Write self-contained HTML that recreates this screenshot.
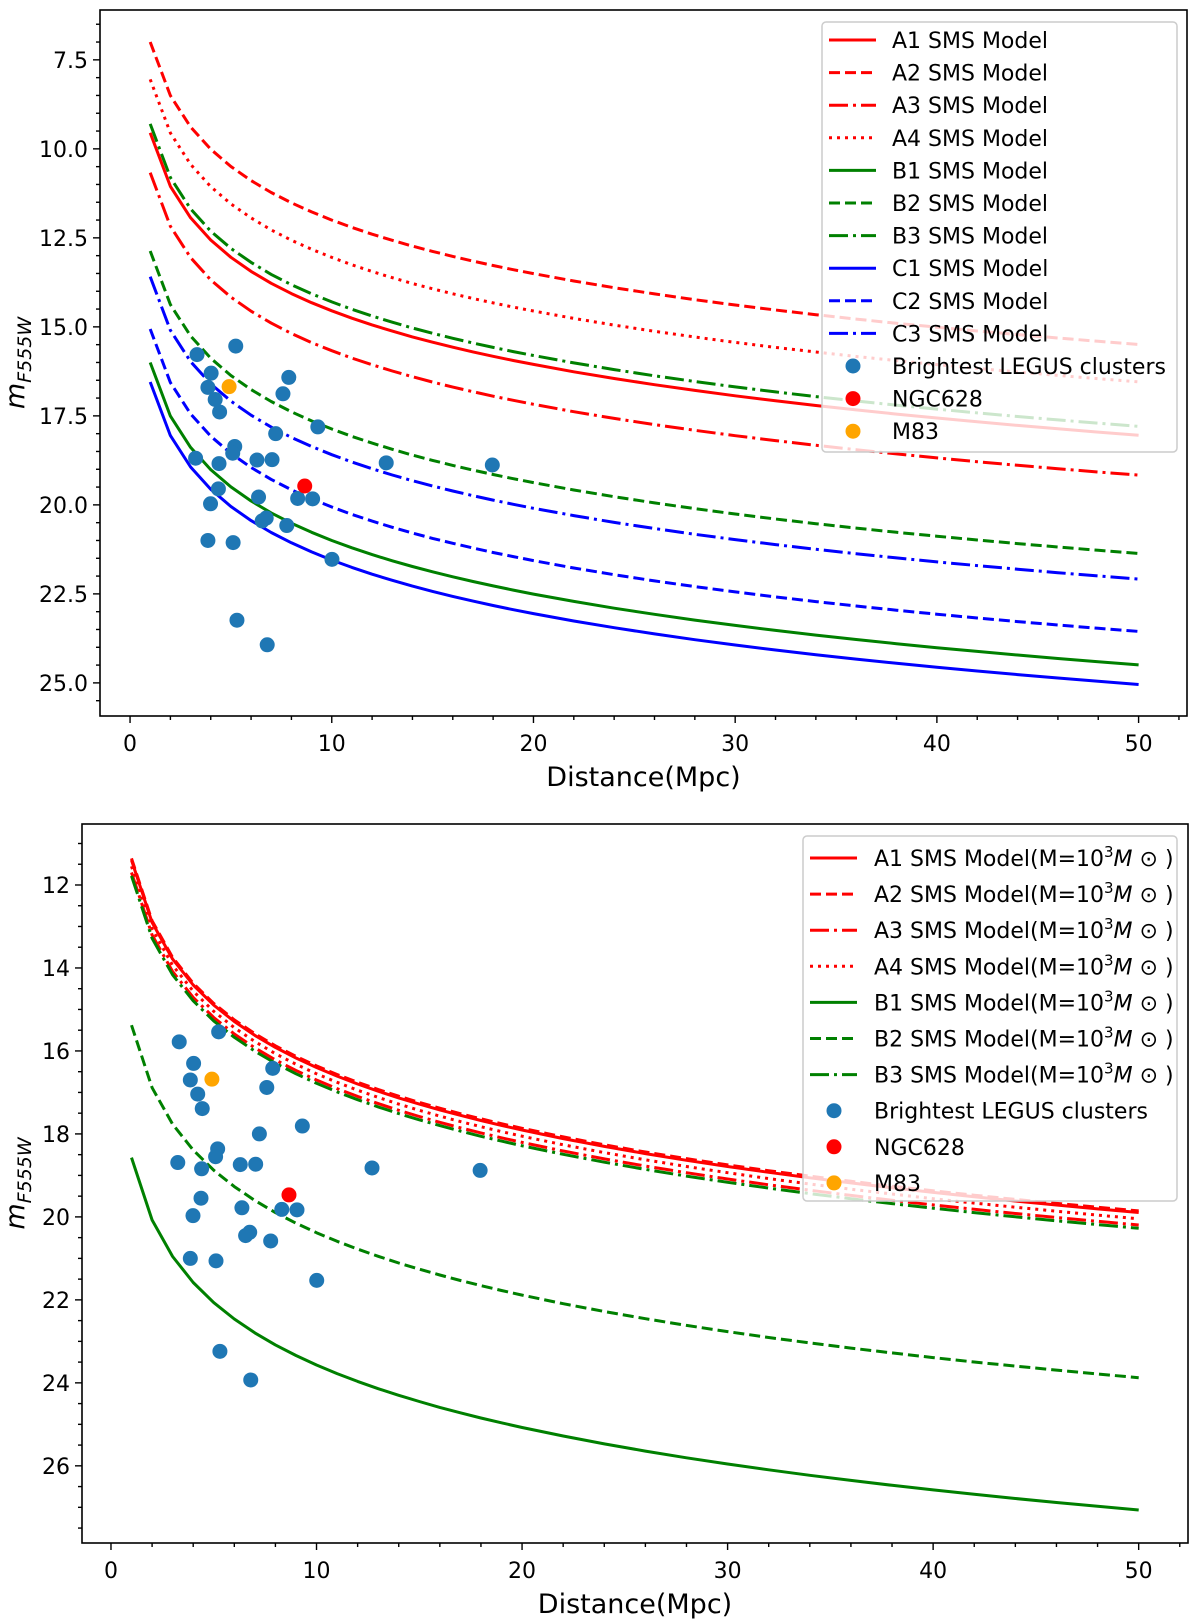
<!DOCTYPE html>
<html><head><meta charset="utf-8"><style>
html,body{margin:0;padding:0;background:#fff;}
svg{display:block;font-family:"DejaVu Sans","Liberation Sans",sans-serif;}
</style></head><body>
<svg id="fig" width="1200" height="1622" viewBox="0 0 1200 1622" xmlns="http://www.w3.org/2000/svg"></svg>
<script>
// ---- data ----
const distances = [1,2,3,4,5,6,7,8,9,10,11,12,13,14,15,16,17,18,19,20,22,24,26,28,30,32,34,36,38,40,42,44,46,48,50];
// apparent magnitude at 1 Mpc for each model (top panel)
const topModels = ['A1','A2','A3','A4','B1','B2','B3','C1','C2','C3'];
const topMag1 = [9.55, 7.0, 10.67, 8.05, 16.0, 12.87, 9.3, 16.55, 15.06, 13.59];
const topColors = ['red','red','red','red','green','green','green','blue','blue','blue'];
const topStyles = ['solid','dashed','dashdot','dotted','solid','dashed','dashdot','solid','dashed','dashdot'];
// bottom panel (M=10^3 Msun)
const botModels = ['A1','A2','A3','A4','B1','B2','B3'];
const botMag1 = [11.40, 11.36, 11.70, 11.55, 18.57, 15.38, 11.78];
const botColors = ['red','red','red','red','green','green','green'];
const botStyles = ['solid','dashed','dashdot','dotted','solid','dashed','dashdot'];
// clusters
const clusterDist = [3.32,5.24,4.02,3.86,4.22,4.44,7.87,7.58,9.31,7.22,5.19,5.09,3.25,4.41,6.29,7.04,12.70,17.96,4.38,3.99,6.37,8.31,9.05,6.75,6.55,7.77,3.86,5.11,10.01,5.30,6.80];
const clusterMag = [15.78,15.54,16.30,16.70,17.04,17.39,16.42,16.88,17.81,18.00,18.36,18.55,18.69,18.84,18.74,18.73,18.82,18.88,19.55,19.97,19.78,19.82,19.83,20.37,20.45,20.58,21.00,21.06,21.53,23.24,23.93];
const ngcDist = [8.66], ngcMag = [19.47];
const m83Dist = [4.91], m83Mag = [16.68];
const topYTicks = [7.5,10.0,12.5,15.0,17.5,20.0,22.5,25.0];
const botYTicks = [12,14,16,18,20,22,24,26];
const xTicks = [0,10,20,30,40,50];

const NS='http://www.w3.org/2000/svg';
const svg=document.getElementById('fig');
function el(tag,attrs,parent){const e=document.createElementNS(NS,tag);for(const k in attrs)e.setAttribute(k,attrs[k]);(parent||svg).appendChild(e);return e;}
const dashMap={solid:null,dashed:'11,5',dashdot:'19,5,3,5',dotted:'3,5'};

function panel(cfg){
  const g=el('g',{});
  
  
  const {L,R,T,B,xmin,xmax,ymin,ymax}=cfg;
  const X=v=>L+(v-xmin)/(xmax-xmin)*(R-L);
  const Y=v=>T+(v-ymin)/(ymax-ymin)*(B-T);
  // curves
  cfg.models.forEach((m,i)=>{
    const pts=distances.map(d=>X(d).toFixed(1)+','+Y(cfg.mag1[i]+5*Math.log10(d)).toFixed(1)).join(' ');
    const a={points:pts,fill:'none',stroke:cfg.colors[i],'stroke-width':3,'stroke-linejoin':'round'};
    if(dashMap[cfg.styles[i]])a['stroke-dasharray']=dashMap[cfg.styles[i]];
    const p=el('polyline',a,g);
    
    
  });
  clusterDist.forEach((d,i)=>{
    const c=el('circle',{cx:X(d),cy:Y(clusterMag[i]),r:7.5,fill:'#1f77b4'},g);
    
    
  });
  ngcDist.forEach((d,i)=>{const c=el('circle',{cx:X(d),cy:Y(ngcMag[i]),r:7.5,fill:'red'},g);
    
    });
  m83Dist.forEach((d,i)=>{const c=el('circle',{cx:X(d),cy:Y(m83Mag[i]),r:7.5,fill:'orange'},g);
    
    });
  // frame
  const fr=el('rect',{x:L,y:T,width:R-L,height:B-T,fill:'none',stroke:'#000','stroke-width':1.6},g);
  
  
  // x ticks
  for(let v=0;v<=52;v+=2){const x=X(v);const maj=v%10===0;
    el('line',{x1:x,x2:x,y1:B,y2:B+(maj?7:4),stroke:'#000','stroke-width':1.4},g);}
  xTicks.forEach(v=>{const t=el('text',{x:X(v),y:B+35,'font-size':22,'text-anchor':'middle'},g);t.textContent=v;
    
    });
  // y ticks
  for(let v=Math.ceil(ymin*2)/2;v<=ymax;v+=0.5){const y=Y(v);
    const maj=cfg.yTicks.some(t=>Math.abs(t-v)<1e-6);
    el('line',{x1:L,x2:L-(maj?7:4),y1:y,y2:y,stroke:'#000','stroke-width':1.4},g);}
  cfg.yTicks.forEach(v=>{const t=el('text',{x:L-12,y:Y(v)+8,'font-size':22,'text-anchor':'end'},g);
    t.textContent=cfg.yfmt(v);
    
    });
  // labels
  const xl=el('text',{x:(L+R)/2,y:B+70,'font-size':27,'text-anchor':'middle'},g);
  xl.textContent='Distance(Mpc)';
  
  
  const yl=el('text',{transform:`translate(${cfg.ylx},${(T+B)/2}) rotate(-90)`,'font-size':27,'text-anchor':'middle'},g);
  
  
  const t1=el('tspan',{'font-style':'italic'},yl);t1.textContent='m';
  const t2=el('tspan',{'font-style':'italic','font-size':19,dy:7},yl);t2.textContent='F555W';
  // legend
  const lg=el('g',{},g);
  
  
  const Lg=cfg.legend;
  el('rect',{x:Lg.x,y:Lg.y,width:Lg.w,height:Lg.h,rx:4,fill:'#fff','fill-opacity':0.8,stroke:'#ccc','stroke-width':1.5},lg);
  const entries=cfg.models.map((m,i)=>({lab:m,c:cfg.colors[i],s:cfg.styles[i]}));
  entries.push({lab:'Brightest LEGUS clusters',mk:'#1f77b4'},{lab:'NGC628',mk:'red'},{lab:'M83',mk:'orange'});
  entries.forEach((e,i)=>{
    const y=Lg.y0+i*Lg.dy;
    const eg=el('g',{},lg);
    
    
    if(e.mk){el('circle',{cx:Lg.hx+24,cy:y,r:7.5,fill:e.mk},eg);}
    else{const a={x1:Lg.hx,x2:Lg.hx+47,y1:y,y2:y,stroke:e.c,'stroke-width':3};
      if(dashMap[e.s])a['stroke-dasharray']=dashMap[e.s];el('line',a,eg);}
    const t=el('text',{x:Lg.tx,y:y+8,'font-size':22},eg);
    if(e.mk||!cfg.massSuffix)t.textContent=e.mk?e.lab:e.lab+' SMS Model';
    else{t.appendChild(document.createTextNode(e.lab+' SMS Model(M=10'));
      const s=el('tspan',{dy:-9,'font-size':15},t);s.textContent='3';
      const mm=el('tspan',{dy:9,'font-style':'italic'},t);mm.textContent='M';
      const r=el('tspan',{},t);r.textContent=' \u2299 )';}
  });
}
panel({name:'top-panel',L:100,R:1187,T:10,B:716,xmin:-1.49,xmax:52.4,ymin:6.1,ymax:25.93,
  models:topModels,mag1:topMag1,colors:topColors,styles:topStyles,yTicks:topYTicks,yfmt:v=>v.toFixed(1),ylx:24,
  massSuffix:false,legend:{x:822,y:22,w:355,h:430,y0:40,dy:32.6,hx:829,tx:892}});
panel({name:'bottom-panel',L:82,R:1188,T:824,B:1543,xmin:-1.41,xmax:52.4,ymin:10.53,ymax:27.86,
  models:botModels,mag1:botMag1,colors:botColors,styles:botStyles,yTicks:botYTicks,yfmt:v=>String(v),ylx:24,
  massSuffix:true,legend:{x:803,y:836,w:374,h:365,y0:858,dy:36.1,hx:810,tx:874}});
</script>
</body></html>
